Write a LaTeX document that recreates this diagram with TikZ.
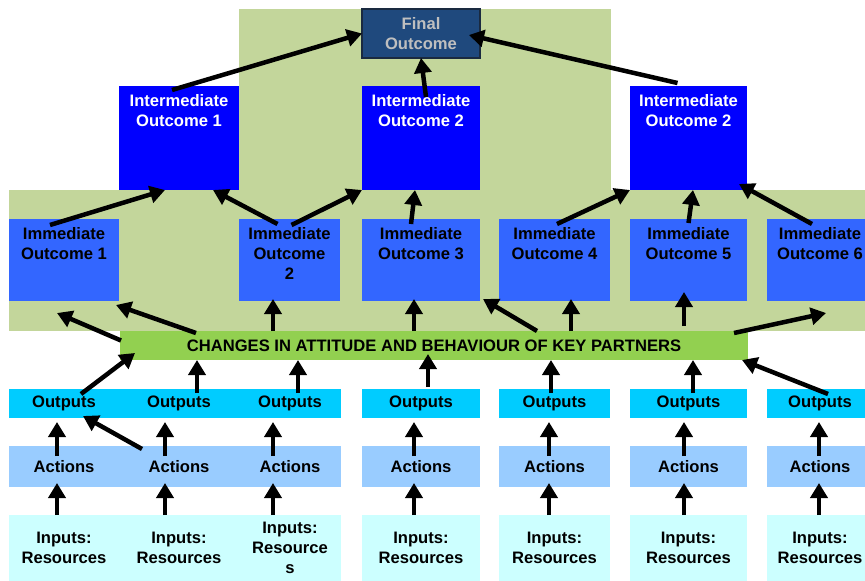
\documentclass[tikz,border=0pt]{standalone}
\usepackage{fontspec}
\setmainfont{Liberation Sans}
\usetikzlibrary{arrows.meta,positioning,calc}
\definecolor{bggreen}{HTML}{C3D69B}
\definecolor{finblue}{HTML}{1F497D}
\definecolor{finline}{HTML}{1A2A40}
\definecolor{fingray}{HTML}{BFBFBF}
\definecolor{ioblue}{HTML}{0000FF}
\definecolor{imblue}{HTML}{3366FF}
\definecolor{chggreen}{HTML}{92D050}
\definecolor{outcyan}{HTML}{00CCFF}
\definecolor{actblue}{HTML}{99CCFF}
\definecolor{inpcyan}{HTML}{CCFFFF}

\begin{document}
\begin{tikzpicture}[x=1pt, y=-1pt, >={Triangle[length=15pt,width=17pt]},
  font=\fontsize{16.6}{20}\selectfont\bfseries,
  every node/.style={inner sep=0, outer sep=0},
  arr/.style={->, line width=4.5pt},
  txt/.style={align=center},
  iobox/.style={fill=ioblue, minimum height=104},
  imbox/.style={fill=imblue, minimum height=82}]
\useasboundingbox (0,0) rectangle (865,581);
\fill[bggreen] (239,9) rectangle (611,190);
\fill[bggreen] (9,190) rectangle (873,331);
\foreach \a/\b in {9/341,362/480,499/610,630/747,767/873} {
  \fill[outcyan] (\a,389) rectangle (\b,418);
  \fill[actblue] (\a,446) rectangle (\b,487);
  \fill[inpcyan] (\a,515) rectangle (\b,581);
}
\node[draw=finline, line width=1.5pt, fill=finblue, minimum width=118, minimum height=49] (fin) at (421,33.5) {};
\node[txt, text=fingray, below=8pt of fin.north] (fint) {Final\\Outcome};
\node[iobox, minimum width=120] (io1) at (179,138) {};
\node[iobox, minimum width=118] (io2) at (421,138) {};
\node[iobox, minimum width=117] (io3) at (688.5,138) {};
\node[txt, text=white, below=8pt of io1.north] (io1t) {Intermediate\\Outcome 1};
\node[txt, text=white, below=8pt of io2.north] (io2t) {Intermediate\\Outcome 2};
\node[txt, text=white, below=8pt of io3.north] (io3t) {Intermediate\\Outcome 2};
\node[imbox, minimum width=110] (im1) at (64,260) {};
\node[imbox, minimum width=101] (im2) at (289.5,260) {};
\node[imbox, minimum width=118] (im3) at (421,260) {};
\node[imbox, minimum width=111] (im4) at (554.5,260) {};
\node[imbox, minimum width=117] (im5) at (688.5,260) {};
\node[imbox, minimum width=106] (im6) at (820,260) {};
\node[txt, below=8pt of im1.north] (im1t) {Immediate\\Outcome 1};
\node[txt, below=8pt of im2.north] (im2t) {Immediate\\Outcome\\2};
\node[txt, below=8pt of im3.north] (im3t) {Immediate\\Outcome 3};
\node[txt, below=8pt of im4.north] (im4t) {Immediate\\Outcome 4};
\node[txt, below=8pt of im5.north] (im5t) {Immediate\\Outcome 5};
\node[txt, below=8pt of im6.north] (im6t) {Immediate\\Outcome 6};
\node[fill=chggreen, minimum width=628, minimum height=29] (chg) at (434,345.5) {CHANGES IN ATTITUDE AND BEHAVIOUR OF KEY PARTNERS};
\foreach \c/\x/\w/\lbl in {1/64/110/{Inputs:\\Resources}, 2/179/120/{Inputs:\\Resources},
    3/290/102/{Inputs:\\Resource\\s}, 4/421/118/{Inputs:\\Resources}, 5/554.5/111/{Inputs:\\Resources},
    6/688.5/117/{Inputs:\\Resources}, 7/820/106/{Inputs:\\Resources}} {
  \node[minimum width=\w, minimum height=29] (out\c) at (\x,403.5) {Outputs};
  \node[minimum width=\w, minimum height=41] (act\c) at (\x,466.5) {Actions};
  \node[txt, minimum width=\w, minimum height=66] (inp\c) at (\x,548) {\lbl};
}
\draw[arr] ([xshift=-7pt,yshift=-4pt]io1.north) -- (fin.west);
\draw[arr] ([xshift=5pt,yshift=-11pt]io2.north) -- (fin.south);
\draw[arr] ([xshift=-11pt,yshift=3pt]io3.north) -- ([xshift=-11pt,yshift=-1.5pt]fin.east);
\draw[arr] ([xshift=-14pt,yshift=-6pt]im1.north) -- ([xshift=-14pt]io1.south);
\draw[arr] ([xshift=-12pt,yshift=-5pt]im2.north) -- ([xshift=34pt]io1.south);
\draw[arr] ([xshift=2pt,yshift=-6pt]im2.north) -- (io2.south west);
\draw[arr] ([xshift=-10pt,yshift=-5pt]im3.north) -- ([xshift=-6pt]io2.south);
\draw[arr] ([xshift=2.5pt,yshift=-5pt]im4.north) -- (io3.south west);
\draw[arr] ([yshift=-4pt]im5.north) -- ([xshift=4.5pt]io3.south);
\draw[arr] ([xshift=-8pt,yshift=-5pt]im6.north) -- ([xshift=-8pt,yshift=6pt]io3.south east);
\draw[arr] ([xshift=1pt,yshift=5pt]chg.west) -- ([xshift=-7pt,yshift=-12pt]im1.south);
\draw[arr] ([xshift=76pt,yshift=-2pt]chg.north west) -- ([xshift=-3pt,yshift=-4pt]im1.south east);
\foreach \m/\d in {2/-16.5,3/-7,4/16.5}
  \draw[arr] ([xshift=\d pt]im\m.south |- chg.north) -- ([xshift=\d pt,yshift=2pt]im\m.south);
\draw[arr] ([xshift=-4.5pt,yshift=5pt]im5.south |- chg.north) -- ([xshift=-4.5pt,yshift=9pt]im5.south);
\draw[arr] ([xshift=-17.5pt]im4.south |- chg.north) -- ([xshift=3pt,yshift=2pt]im3.south east);
\draw[arr] ([xshift=-14pt,yshift=-2pt]chg.north east) -- ([xshift=6pt,yshift=-12pt]im6.south);
\draw[arr] ([xshift=17pt,yshift=-5pt]out1.north) -- ([xshift=15pt,yshift=7pt]chg.south west);
\foreach \c/\d in {2/18,3/8,5/-3.5,6/4.5}
  \draw[arr] ([xshift=\d pt,yshift=-4pt]out\c.north) -- ([xshift=\d pt]out\c.north |- chg.south);
\draw[arr] ([xshift=7pt,yshift=2pt]out4.north) -- ([xshift=7pt,yshift=6pt]out4.north |- chg.south);
\draw[arr] ([xshift=8pt,yshift=-5pt]out7.north) -- ([xshift=-6pt]chg.south east);
\foreach \c/\d in {1/-7,2/-14,3/-17,4/-7,5/-5.5,6/-4.5,7/-1} {
  \draw[arr] ([xshift=\d pt,yshift=-10pt]act\c.north) -- ([xshift=\d pt,yshift=-4pt]out\c.south);
  \draw[arr] ([xshift=\d pt]inp\c.north) -- ([xshift=\d pt,yshift=4pt]act\c.south);
}
\draw[arr] ([xshift=-37pt,yshift=-3pt]act2.north) -- ([xshift=19pt,yshift=2pt]out1.south);
\end{tikzpicture}
\end{document}
